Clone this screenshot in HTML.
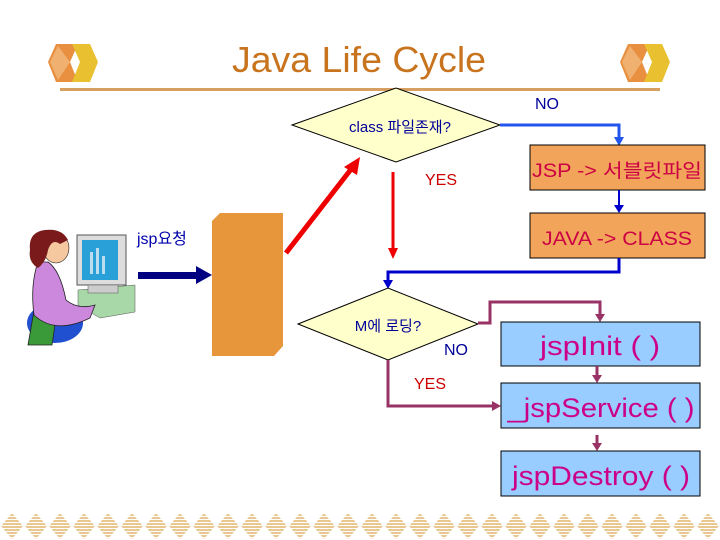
<!DOCTYPE html>
<html><head><meta charset="utf-8"><style>
body{margin:0;width:720px;height:540px;background:#fff;overflow:hidden}
svg{display:block}
text{font-family:"Liberation Sans","Noto Sans CJK KR",sans-serif}
</style></head><body>
<svg width="720" height="540" viewBox="0 0 720 540">
<defs>
<pattern id="dp" x="0" y="513" width="24" height="26" patternUnits="userSpaceOnUse">
<polygon points="12,0 23,13 12,26 1,13" fill="#e8c890"/>
</pattern>
<pattern id="hl" x="0" y="0" width="4" height="3" patternUnits="userSpaceOnUse">
<rect width="4" height="1" fill="#fff"/>
</pattern>
</defs>
<g>
<polygon points="48,62 56,44 78,44 70,62 78,82 56,82" fill="#e89040"/>
<polygon points="72,44 90,44 98,62 90,82 72,82 80,62" fill="#e8c030"/>
<polygon points="50,62 58,46 70,62 58,80" fill="#f0b070"/>
</g>
<g transform="translate(572,0)">
<polygon points="48,62 56,44 78,44 70,62 78,82 56,82" fill="#e89040"/>
<polygon points="72,44 90,44 98,62 90,82 72,82 80,62" fill="#e8c030"/>
<polygon points="50,62 58,46 70,62 58,80" fill="#f0b070"/>
</g>
<text x="359" y="72" font-size="36" fill="#c8741e" text-anchor="middle" textLength="254" lengthAdjust="spacingAndGlyphs">Java Life Cycle</text>
<rect x="60" y="88" width="600" height="3" fill="#d8a060"/>

<polygon points="292,125 396,88 500,125 396,162" fill="#ffffcc" stroke="#000" stroke-width="1"/>
<text x="400" y="132" font-size="15" fill="#000099" text-anchor="middle">class 파일존재?</text>
<text x="535" y="109" font-size="16" fill="#000099">NO</text>
<polyline points="500,125 619,125 619,140" fill="none" stroke="#2255ee" stroke-width="3"/>
<polygon points="614,137 624,137 619,146" fill="#2255ee"/>

<rect x="530" y="145" width="175" height="45" fill="#f2a55a" stroke="#000" stroke-width="1"/>
<text x="617" y="177" font-size="19" fill="#cc0044" text-anchor="middle" textLength="170" lengthAdjust="spacingAndGlyphs">JSP -&gt; 서블릿파일</text>
<line x1="619" y1="190" x2="619" y2="208" stroke="#0000cc" stroke-width="2"/>
<polygon points="614,205 624,205 619,213" fill="#0000cc"/>
<rect x="530" y="213" width="175" height="45" fill="#f2a55a" stroke="#000" stroke-width="1"/>
<text x="617" y="245" font-size="19" fill="#cc0044" text-anchor="middle" textLength="150" lengthAdjust="spacingAndGlyphs">JAVA -&gt; CLASS</text>

<text x="425" y="185" font-size="16" fill="#cc0000">YES</text>
<line x1="393" y1="172" x2="393" y2="250" stroke="#ee0000" stroke-width="3"/>
<polygon points="388,248 398,248 393,259" fill="#ee0000"/>
<line x1="286" y1="253" x2="352" y2="168" stroke="#ee0000" stroke-width="5"/>
<polygon points="344,167 360,157 357,175" fill="#ee0000"/>

<polyline points="619,258 619,272 388,272 388,283" fill="none" stroke="#0000cc" stroke-width="3"/>
<polygon points="383,280 393,280 388,289" fill="#0000cc"/>

<polygon points="298,324 388,288 478,324 388,360" fill="#ffffcc" stroke="#000" stroke-width="1"/>
<text x="388" y="331" font-size="15" fill="#000099" text-anchor="middle">M에 로딩?</text>
<text x="444" y="355" font-size="16" fill="#000099">NO</text>
<text x="414" y="389" font-size="16" fill="#cc0000">YES</text>
<polyline points="478,323 490,323 490,302 600,302 600,316" fill="none" stroke="#993366" stroke-width="3"/>
<polygon points="595,314 605,314 600,322" fill="#993366"/>
<polyline points="388,360 388,406 494,406" fill="none" stroke="#993366" stroke-width="3"/>
<polygon points="492,401 501,406 492,411" fill="#993366"/>

<rect x="501" y="322" width="199" height="44" fill="#99ccff" stroke="#000" stroke-width="1"/>
<text x="600" y="355" font-size="27" fill="#cc0088" text-anchor="middle" textLength="120" lengthAdjust="spacingAndGlyphs">jspInit ( )</text>
<line x1="597" y1="366" x2="597" y2="377" stroke="#993366" stroke-width="3"/>
<polygon points="592,375 602,375 597,383" fill="#993366"/>
<rect x="501" y="383" width="199" height="45" fill="#99ccff" stroke="#000" stroke-width="1"/>
<text x="601" y="417" font-size="27" fill="#cc0088" text-anchor="middle" textLength="187" lengthAdjust="spacingAndGlyphs">_jspService ( )</text>
<line x1="597" y1="435" x2="597" y2="445" stroke="#993366" stroke-width="3"/>
<polygon points="592,443 602,443 597,451" fill="#993366"/>
<rect x="501" y="451" width="199" height="45" fill="#99ccff" stroke="#000" stroke-width="1"/>
<text x="601" y="485" font-size="27" fill="#cc0088" text-anchor="middle" textLength="178" lengthAdjust="spacingAndGlyphs">jspDestroy ( )</text>

<polygon points="220,213 283,213 283,346 274,356 212,356 212,221" fill="#e8963c"/>
<text x="137" y="244" font-size="16" fill="#0000aa">jsp요청</text>
<rect x="138" y="272" width="60" height="7" fill="#000080"/>
<polygon points="196,266 212,275 196,284" fill="#000080"/>

<g>
<polygon points="78,290 135,285 135,312 100,318 78,305" fill="#a8d8a8" stroke="#555" stroke-width="0.5"/>
<rect x="77" y="235" width="49" height="50" fill="#ddd" stroke="#555"/>
<rect x="82" y="240" width="36" height="40" fill="#2aa0d8"/>
<rect x="90" y="252" width="3" height="22" fill="#bde"/><rect x="96" y="248" width="3" height="26" fill="#bde"/><rect x="102" y="256" width="3" height="18" fill="#bde"/>
<rect x="88" y="285" width="30" height="8" fill="#ccc" stroke="#555" stroke-width="0.5"/>
<ellipse cx="55" cy="323" rx="28" ry="20" fill="#2050d0"/>
<path d="M28,345 L35,305 Q45,296 58,304 L52,345 Z" fill="#3a9a3a" stroke="#222" stroke-width="0.8"/>
<path d="M38,262 Q30,285 34,315 Q55,335 90,318 L95,305 Q78,310 66,300 Q60,270 48,262 Z" fill="#cc88dd" stroke="#222" stroke-width="0.8"/>
<ellipse cx="56" cy="248" rx="13" ry="15" fill="#f5c8a0" stroke="#222" stroke-width="0.6"/>
<path d="M30,250 Q28,232 45,230 Q62,228 68,240 L60,244 Q52,238 48,250 Q46,262 38,268 Q28,262 30,250 Z" fill="#7a1a1a"/>
</g>

<rect x="0" y="513" width="720" height="26" fill="url(#dp)"/>
<rect x="0" y="513" width="720" height="26" fill="url(#hl)"/>
</svg>
</body></html>
